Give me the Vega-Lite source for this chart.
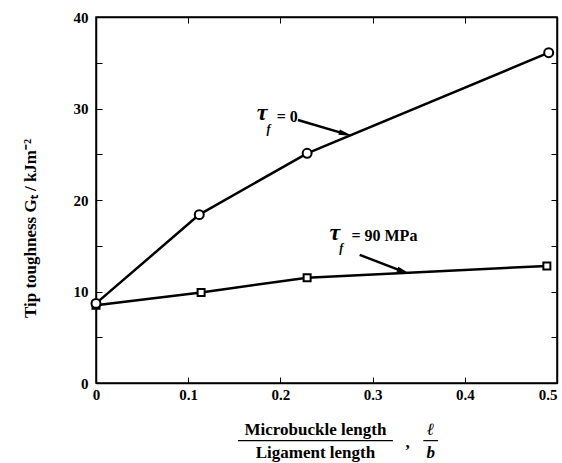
{
  "$schema": "https://vega.github.io/schema/vega-lite/v6.json",
  "width": 461,
  "height": 366,
  "autosize": {"type": "none"},
  "padding": {"left": 96, "top": 17, "right": 5, "bottom": 80},
  "background": "white",
  "config": {"view": {"stroke": "black", "strokeWidth": 1.5}, "font": "Liberation Serif"},
  "datasets": {
    "curves": [
      {"series": "tau0", "x": 0, "y": 8.7},
      {"series": "tau0", "x": 0.112, "y": 18.4},
      {"series": "tau0", "x": 0.229, "y": 25.1},
      {"series": "tau0", "x": 0.491, "y": 36.1},
      {"series": "tau90", "x": 0, "y": 8.5},
      {"series": "tau90", "x": 0.114, "y": 9.9},
      {"series": "tau90", "x": 0.229, "y": 11.5},
      {"series": "tau90", "x": 0.489, "y": 12.8}
    ],
    "texts": [
      {"role": "tau", "t": "τ", "x": 0.18, "y": 29.5},
      {"role": "tau", "t": "τ", "x": 0.259, "y": 16.4},
      {"role": "sub", "t": "f", "x": 0.187, "y": 27.8},
      {"role": "sub", "t": "f", "x": 0.266, "y": 14.8},
      {"role": "plain", "t": "= 0", "x": 0.196, "y": 29.1},
      {"role": "plain", "t": "= 90 MPa", "x": 0.277, "y": 16.1},
      {"role": "xtitle", "t": "Microbuckle length", "x": 0.238, "y": -5.1},
      {"role": "xtitle", "t": "Ligament length", "x": 0.238, "y": -7.6},
      {"role": "xtitle", "t": ",", "x": 0.338, "y": -6.6},
      {"role": "frac", "t": "ℓ", "x": 0.363, "y": -5.1},
      {"role": "frac", "t": "b", "x": 0.363, "y": -7.6}
    ],
    "bars": [
      {"x": 0.154, "x2": 0.322, "y": -6.3},
      {"x": 0.355, "x2": 0.371, "y": -6.3}
    ],
    "arrows": [
      {"x": 0.219, "y": 28.75, "x2": 0.271, "y2": 27.2},
      {"x": 0.286, "y": 14.0, "x2": 0.334, "y2": 12.15}
    ]
  },
  "layer": [
    {
      "data": {"name": "curves"},
      "mark": {"type": "line", "color": "black", "strokeWidth": 2.5},
      "encoding": {
        "x": {"field": "x", "type": "quantitative", "scale": {"domain": [0, 0.5], "nice": false, "zero": false},
          "axis": {"orient": "bottom", "values": [0, 0.1, 0.2, 0.3, 0.4, 0.5], "title": null, "grid": false,
            "tickSize": -6, "tickColor": "black", "tickWidth": 1, "domainColor": "black", "domainWidth": 1.5,
            "labelFont": "Liberation Serif", "labelFontSize": 15, "labelFontWeight": "bold", "labelColor": "black",
            "labelPadding": 10, "labelFlush": false,
            "labelAlign": {"condition": {"test": "datum.value == 0.5", "value": "right"}, "value": "center"},
            "labelExpr": "datum.value == 0 ? '0' : format(datum.value, '.1f')"}},
        "y": {"field": "y", "type": "quantitative", "scale": {"domain": [0, 40], "nice": false, "zero": false},
          "axis": {"orient": "left", "values": [0, 5, 10, 15, 20, 25, 30, 35, 40], "grid": false,
            "title": "Tip toughness Gₜ / kJm⁻²", "titleFont": "Liberation Serif", "titleFontSize": 17,
            "titleFontWeight": "bold", "titleColor": "black", "titleX": -66, "titleY": 211,
            "titleBaseline": "middle", "titleAlign": "center", "titleAngle": -90,
            "tickSize": -6, "tickColor": "black", "tickWidth": 1, "domainColor": "black", "domainWidth": 1.5,
            "labelFont": "Liberation Serif", "labelFontSize": 15, "labelFontWeight": "bold", "labelColor": "black",
            "labelPadding": 14, "labelFlush": false,
            "labelExpr": "datum.value % 10 == 0 ? datum.label : ''"}},
        "detail": {"field": "series", "type": "nominal"}
      }
    },
    {
      "data": {"name": "curves"},
      "transform": [{"filter": "datum.series == 'tau90'"}],
      "mark": {"type": "point", "shape": "square", "size": 49, "filled": true, "fill": "white", "stroke": "black", "strokeWidth": 2, "opacity": 1},
      "encoding": {
        "x": {"field": "x", "type": "quantitative", "scale": {"domain": [0, 0.5], "nice": false, "zero": false},
          "axis": {"orient": "top", "values": [0, 0.1, 0.2, 0.3, 0.4, 0.5], "title": null, "grid": false, "labels": false,
            "tickSize": -6, "tickColor": "black", "tickWidth": 1, "domainColor": "black", "domainWidth": 1.5}},
        "y": {"field": "y", "type": "quantitative", "scale": {"domain": [0, 40], "nice": false, "zero": false},
          "axis": {"orient": "right", "values": [0, 5, 10, 15, 20, 25, 30, 35, 40], "title": null, "grid": false, "labels": false,
            "tickSize": -6, "tickColor": "black", "tickWidth": 1, "domainColor": "black", "domainWidth": 1.5}}
      }
    },
    {
      "data": {"name": "curves"},
      "transform": [{"filter": "datum.series == 'tau0'"}],
      "mark": {"type": "point", "shape": "circle", "size": 80, "filled": true, "fill": "white", "stroke": "black", "strokeWidth": 2, "opacity": 1},
      "encoding": {
        "x": {"field": "x", "type": "quantitative", "scale": {"domain": [0, 0.5], "nice": false, "zero": false}, "axis": null},
        "y": {"field": "y", "type": "quantitative", "scale": {"domain": [0, 40], "nice": false, "zero": false}, "axis": null}
      }
    },
    {
      "data": {"name": "arrows"},
      "mark": {"type": "rule", "color": "black", "strokeWidth": 2.5},
      "encoding": {
        "x": {"field": "x", "type": "quantitative", "scale": {"domain": [0, 0.5], "nice": false, "zero": false}, "axis": null},
        "y": {"field": "y", "type": "quantitative", "scale": {"domain": [0, 40], "nice": false, "zero": false}, "axis": null},
        "x2": {"field": "x2"},
        "y2": {"field": "y2"}
      }
    },
    {
      "data": {"name": "arrows"},
      "transform": [{"filter": "datum.y > 20"}],
      "mark": {"type": "point", "shape": "M-1,-0.38L1,0L-1,0.38Z", "size": 200, "filled": true, "color": "black", "opacity": 1, "angle": 16},
      "encoding": {
        "x": {"field": "x2", "type": "quantitative", "scale": {"domain": [0, 0.5], "nice": false, "zero": false}, "axis": null},
        "y": {"field": "y2", "type": "quantitative", "scale": {"domain": [0, 40], "nice": false, "zero": false}, "axis": null}
      }
    },
    {
      "data": {"name": "arrows"},
      "transform": [{"filter": "datum.y < 20"}],
      "mark": {"type": "point", "shape": "M-1,-0.38L1,0L-1,0.38Z", "size": 200, "filled": true, "color": "black", "opacity": 1, "angle": 21},
      "encoding": {
        "x": {"field": "x2", "type": "quantitative", "scale": {"domain": [0, 0.5], "nice": false, "zero": false}, "axis": null},
        "y": {"field": "y2", "type": "quantitative", "scale": {"domain": [0, 40], "nice": false, "zero": false}, "axis": null}
      }
    },
    {
      "data": {"name": "bars"},
      "mark": {"type": "rule", "color": "black", "strokeWidth": 1.2, "clip": false},
      "encoding": {
        "x": {"field": "x", "type": "quantitative", "scale": {"domain": [0, 0.5], "nice": false, "zero": false}, "axis": null},
        "x2": {"field": "x2"},
        "y": {"field": "y", "type": "quantitative", "scale": {"domain": [0, 40], "nice": false, "zero": false}, "axis": null}
      }
    },
    {
      "data": {"name": "texts"},
      "transform": [{"filter": "datum.role == 'tau'"}],
      "mark": {"type": "text", "font": "Liberation Serif", "fontSize": 24, "fontStyle": "italic", "fontWeight": "bold", "color": "black", "align": "center", "baseline": "middle"},
      "encoding": {
        "x": {"field": "x", "type": "quantitative", "scale": {"domain": [0, 0.5], "nice": false, "zero": false}, "axis": null},
        "y": {"field": "y", "type": "quantitative", "scale": {"domain": [0, 40], "nice": false, "zero": false}, "axis": null},
        "text": {"field": "t"}
      }
    },
    {
      "data": {"name": "texts"},
      "transform": [{"filter": "datum.role == 'sub'"}],
      "mark": {"type": "text", "font": "Liberation Serif", "fontSize": 12, "fontStyle": "italic", "fontWeight": "bold", "color": "black", "align": "center", "baseline": "middle"},
      "encoding": {
        "x": {"field": "x", "type": "quantitative", "scale": {"domain": [0, 0.5], "nice": false, "zero": false}, "axis": null},
        "y": {"field": "y", "type": "quantitative", "scale": {"domain": [0, 40], "nice": false, "zero": false}, "axis": null},
        "text": {"field": "t"}
      }
    },
    {
      "data": {"name": "texts"},
      "transform": [{"filter": "datum.role == 'plain'"}],
      "mark": {"type": "text", "font": "Liberation Serif", "fontSize": 16, "fontWeight": "bold", "color": "black", "align": "left", "baseline": "middle"},
      "encoding": {
        "x": {"field": "x", "type": "quantitative", "scale": {"domain": [0, 0.5], "nice": false, "zero": false}, "axis": null},
        "y": {"field": "y", "type": "quantitative", "scale": {"domain": [0, 40], "nice": false, "zero": false}, "axis": null},
        "text": {"field": "t"}
      }
    },
    {
      "data": {"name": "texts"},
      "transform": [{"filter": "datum.role == 'xtitle'"}],
      "mark": {"type": "text", "font": "Liberation Serif", "fontSize": 17, "fontWeight": "bold", "color": "black", "align": "center", "baseline": "middle"},
      "encoding": {
        "x": {"field": "x", "type": "quantitative", "scale": {"domain": [0, 0.5], "nice": false, "zero": false}, "axis": null},
        "y": {"field": "y", "type": "quantitative", "scale": {"domain": [0, 40], "nice": false, "zero": false}, "axis": null},
        "text": {"field": "t"}
      }
    },
    {
      "data": {"name": "texts"},
      "transform": [{"filter": "datum.role == 'frac'"}],
      "mark": {"type": "text", "font": "Liberation Serif", "fontSize": 17, "fontStyle": "italic", "fontWeight": "bold", "color": "black", "align": "center", "baseline": "middle"},
      "encoding": {
        "x": {"field": "x", "type": "quantitative", "scale": {"domain": [0, 0.5], "nice": false, "zero": false}, "axis": null},
        "y": {"field": "y", "type": "quantitative", "scale": {"domain": [0, 40], "nice": false, "zero": false}, "axis": null},
        "text": {"field": "t"}
      }
    }
  ],
  "resolve": {"axis": {"x": "independent", "y": "independent"}}
}
